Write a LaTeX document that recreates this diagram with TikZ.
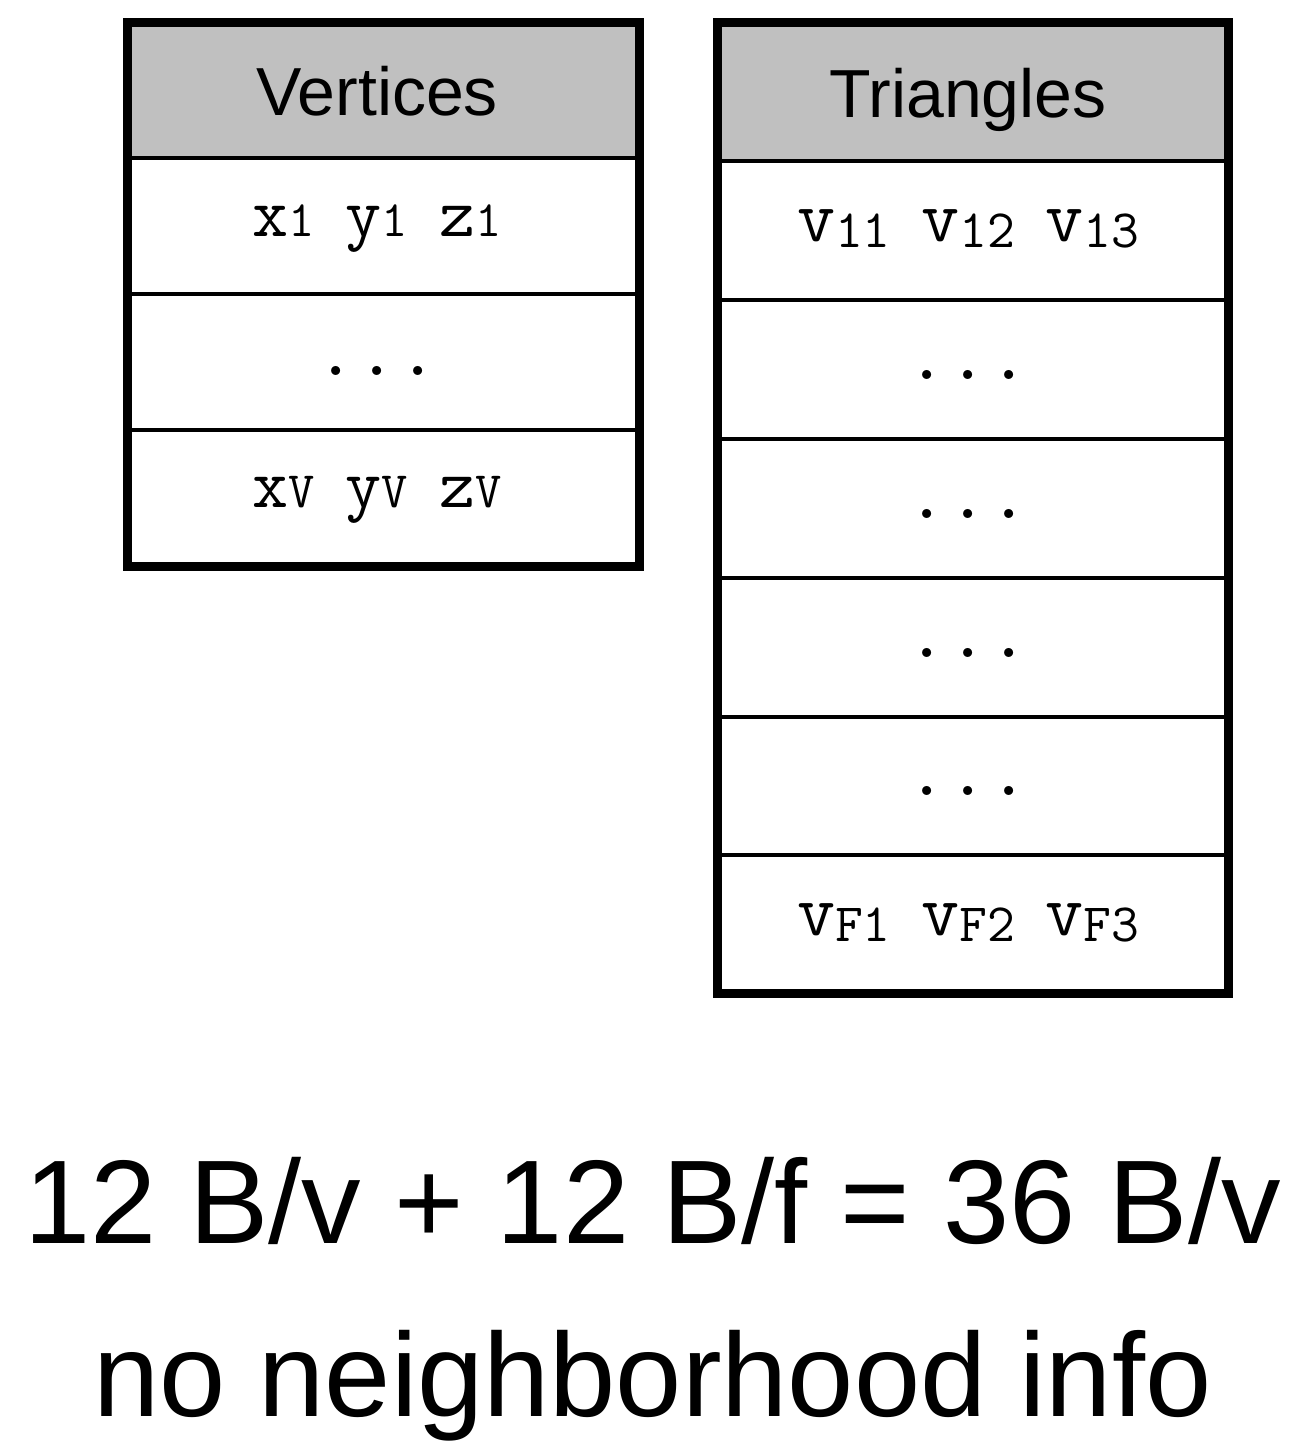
\documentclass[tikz,border=0pt]{standalone}
\usepackage{fontspec}
\setmainfont{Liberation Sans}
\definecolor{hdrgray}{HTML}{C0C0C0}
\newcommand\vtx[2]{{\fontsize{35pt}{40pt}\selectfont #1}{\fontsize{25.5pt}{28pt}\selectfont #2}}
\newcommand\tri[2]{{\fontsize{37pt}{42pt}\selectfont #1}\raisebox{-3pt}{\fontsize{27pt}{30pt}\selectfont #2}}
\newcommand\vgap{\hspace{15.7pt}}
\newcommand\tgap{\hspace{15.2pt}}
\tikzset{
  outerframe/.style={draw=black, line width=4.5pt},
  innerline/.style={draw=black, line width=2pt},
  hdrfill/.style={fill=hdrgray},
  hdrtext/.style={anchor=base, inner sep=0pt, font=\fontsize{34pt}{40pt}\selectfont},
  celltext/.style={anchor=base, inner sep=0pt, font=\ttfamily},
  dotstext/.style={anchor=base, inner sep=0pt, font=\ttfamily\fontsize{40pt}{44pt}\selectfont},
  bigtext/.style={anchor=base, inner sep=0pt, font=\fontsize{59.5pt}{70pt}\selectfont},
}
\begin{document}
\begin{tikzpicture}[x=0.5pt, y=-0.5pt]
\useasboundingbox (0,0) rectangle (1293,1455);
% Vertices table
\fill[hdrfill] (127,22.5) rectangle (639,158);
\foreach \yy in {158,294,430} \draw[innerline] (127,\yy) -- (639,\yy);
\draw[outerframe] (127,22.5) rectangle (639,566);
\node[hdrtext] (vhead) at (377,116) {Vertices};
\node[celltext] (vfirst) at (377,236) {\vtx{x}{1}\vgap\vtx{y}{1}\vgap\vtx{z}{1}};
\node[dotstext] (vdots) at (377,375) {...};
\node[celltext] (vlast) at (377,507) {\vtx{x}{V}\vgap\vtx{y}{V}\vgap\vtx{z}{V}};
% Triangles table
\fill[hdrfill] (717.5,22.5) rectangle (1228.5,161);
\foreach \yy in {161,300,439,578,717,855} \draw[innerline] (717.5,\yy) -- (1228.5,\yy);
\draw[outerframe] (717.5,22.5) rectangle (1228.5,993);
\node[hdrtext] (thead) at (968,118) {Triangles};
\node[celltext] (tfirst) at (968,242) {\tri{v}{11}\tgap\tri{v}{12}\tgap\tri{v}{13}};
\node[dotstext] (tdotsa) at (968,379) {...};
\node[dotstext] (tdotsb) at (968,518) {...};
\node[dotstext] (tdotsc) at (968,657) {...};
\node[dotstext] (tdotsd) at (968,795) {...};
\node[celltext] (tlast) at (968,935) {\tri{v}{F1}\tgap\tri{v}{F2}\tgap\tri{v}{F3}};
% bottom text
\node[bigtext] (cost) at (652.5,1243) {12 B/v + 12 B/f = 36 B/v};
\node[bigtext] (note) at (652.5,1416) {no neighborhood info};
\end{tikzpicture}
\end{document}
